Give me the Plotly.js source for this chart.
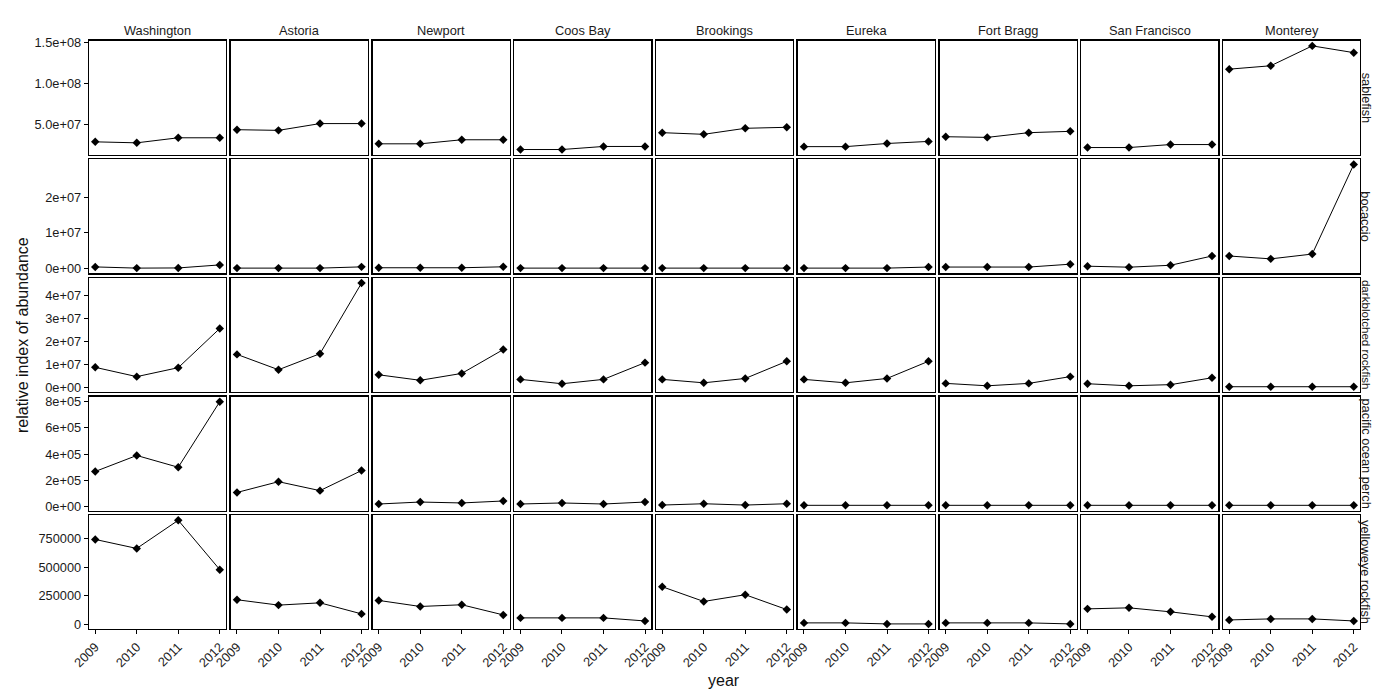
<!DOCTYPE html>
<html>
<head>
<meta charset="utf-8">
<script src="https://cdn.plot.ly/plotly-3.0.1.min.js"></script>
<style>
  body { margin: 0; background: #fff; }
  #chart { width: 1400px; height: 700px; }
</style>
</head>
<body>
<div id="chart"></div>
<script>
// facet grid: species (rows) x port (columns), y free per row
const years = [2009, 2010, 2011, 2012];
const ports = ["Washington", "Astoria", "Newport", "Coos Bay", "Brookings",
               "Eureka", "Fort Bragg", "San Francisco", "Monterey"];
const species = ["sablefish", "bocaccio", "darkblotched rockfish",
                 "pacific ocean perch", "yelloweye rockfish"];

// one array per port, values for 2009..2012
const sablefish = [
  [2.95e7, 2.83e7, 3.44e7, 3.44e7],
  [4.42e7, 4.34e7, 5.16e7, 5.16e7],
  [2.71e7, 2.71e7, 3.2e7, 3.2e7],
  [2.02e7, 2.02e7, 2.39e7, 2.39e7],
  [4.06e7, 3.86e7, 4.59e7, 4.71e7],
  [2.37e7, 2.37e7, 2.75e7, 3.0e7],
  [3.57e7, 3.49e7, 4.06e7, 4.22e7],
  [2.26e7, 2.26e7, 2.62e7, 2.62e7],
  [1.175e8, 1.216e8, 1.457e8, 1.375e8]
];
const bocaccio = [
  [4.4e5, 1e5, 1.5e5, 1.0e6],
  [1e5, 1e5, 1e5, 4.5e5],
  [2e5, 2e5, 2e5, 4.7e5],
  [1e5, 1e5, 1e5, 1e5],
  [1e5, 1e5, 1e5, 1e5],
  [1e5, 1e5, 1e5, 4e5],
  [4e5, 4e5, 4e5, 1.2e6],
  [6.4e5, 3.6e5, 9e5, 3.5e6],
  [3.5e6, 2.7e6, 4.05e6, 2.92e7]
];
const darkblotched = [
  [8.75e6, 4.7e6, 8.6e6, 2.57e7],
  [1.44e7, 7.7e6, 1.47e7, 4.55e7],
  [5.5e6, 3.1e6, 6.1e6, 1.65e7],
  [3.5e6, 1.6e6, 3.5e6, 1.08e7],
  [3.5e6, 2.0e6, 3.9e6, 1.14e7],
  [3.5e6, 2.0e6, 3.9e6, 1.14e7],
  [1.75e6, 7e5, 1.75e6, 4.7e6],
  [1.6e6, 7e5, 1.2e6, 4.2e6],
  [3e5, 3e5, 3e5, 3e5]
];
const oceanPerch = [
  [2.68e5, 3.9e5, 3.0e5, 8.0e5],
  [1.08e5, 1.9e5, 1.22e5, 2.75e5],
  [2.0e4, 3.5e4, 2.8e4, 4.3e4],
  [2.0e4, 2.8e4, 2.0e4, 3.5e4],
  [1.2e4, 2.2e4, 1.2e4, 2.2e4],
  [1e4, 1e4, 1e4, 1e4],
  [1e4, 1e4, 1e4, 1e4],
  [1e4, 1e4, 1e4, 1e4],
  [1e4, 1e4, 1e4, 1e4]
];
const yelloweye = [
  [7.44e5, 6.65e5, 9.12e5, 4.79e5],
  [2.15e5, 1.68e5, 1.88e5, 9.1e4],
  [2.09e5, 1.56e5, 1.71e5, 8.2e4],
  [5.6e4, 5.6e4, 5.6e4, 2.9e4],
  [3.29e5, 2.0e5, 2.59e5, 1.29e5],
  [1.2e4, 1.2e4, 3e3, 3e3],
  [1.2e4, 1.2e4, 1.2e4, 3e3],
  [1.35e5, 1.44e5, 1.09e5, 6.5e4],
  [3.8e4, 4.7e4, 4.7e4, 2.9e4]
];
const rows = [sablefish, bocaccio, darkblotched, oceanPerch, yelloweye];

// y tick values and labels per row
const yTickVals = [
  [5e7, 1e8, 1.5e8],
  [0, 1e7, 2e7],
  [0, 1e7, 2e7, 3e7, 4e7],
  [0, 2e5, 4e5, 6e5, 8e5],
  [0, 250000, 500000, 750000]
];
const yTickText = [
  ["5.0e+07", "1.0e+08", "1.5e+08"],
  ["0e+00", "1e+07", "2e+07"],
  ["0e+00", "1e+07", "2e+07", "3e+07", "4e+07"],
  ["0e+00", "2e+05", "4e+05", "6e+05", "8e+05"],
  ["0", "250000", "500000", "750000"]
];

const W = 1400, H = 700;
const left0 = 89, colStep = 141.75, panelW = 137;
const top0 = 40.7, rowStep = 118.6, panelH = 114;
const tickFont = { family: "Liberation Sans, Arial, sans-serif", size: 12.8, color: "#1a1a1a" };

const traces = [];
const layout = {
  width: W, height: H,
  margin: { l: 0, r: 0, t: 0, b: 0 },
  paper_bgcolor: "white",
  plot_bgcolor: "white",
  showlegend: false,
  font: { family: "Liberation Sans, Arial, sans-serif", color: "#1a1a1a" },
  annotations: []
};

rows.forEach((rowData, r) => {
  // ggplot-like 5% expansion, shared within the row
  const all = rowData.flat();
  const lo = Math.min(...all), hi = Math.max(...all);
  const pad = (hi - lo) * 0.05;
  const yRange = [lo - pad, hi + pad];

  rowData.forEach((vals, c) => {
    const n = r * ports.length + c + 1;
    const sx = n === 1 ? "" : String(n);
    traces.push({
      x: years, y: vals,
      xaxis: "x" + sx, yaxis: "y" + sx,
      type: "scatter", mode: "lines+markers",
      line: { color: "black", width: 1 },
      marker: { color: "black", symbol: "diamond", size: 6.5 },
      hoverinfo: "x+y"
    });

    const x0 = left0 + c * colStep;
    const y0 = top0 + r * rowStep;
    const bottomRow = r === rows.length - 1;
    const firstCol = c === 0;

    layout["xaxis" + sx] = {
      domain: [x0 / W, (x0 + panelW) / W],
      anchor: "y" + sx,
      range: [2008.85, 2012.15],
      showline: true, mirror: true, linecolor: "black", linewidth: 1.3,
      showgrid: false, zeroline: false,
      tickvals: years,
      ticks: bottomRow ? "outside" : "",
      ticklen: 4, tickcolor: "black",
      showticklabels: bottomRow,
      tickangle: -45,
      tickfont: tickFont
    };
    layout["yaxis" + sx] = {
      domain: [(H - y0 - panelH) / H, (H - y0) / H],
      anchor: "x" + sx,
      range: yRange,
      showline: true, mirror: true, linecolor: "black", linewidth: 1.3,
      showgrid: false, zeroline: false,
      tickvals: yTickVals[r], ticktext: yTickText[r],
      ticks: firstCol ? "outside" : "",
      ticklen: 4, tickcolor: "black",
      showticklabels: firstCol,
      tickfont: tickFont
    };
  });
});

// column strips
ports.forEach((p, c) => {
  layout.annotations.push({
    text: p, xref: "paper", yref: "paper",
    x: (left0 + c * colStep + panelW / 2) / W, y: 1 - 31 / H,
    xanchor: "center", yanchor: "middle", showarrow: false,
    font: { size: 12.8, color: "#1a1a1a" }
  });
});
// row strips (long label shrunk a little so it stays beside its own row)
species.forEach((s, r) => {
  layout.annotations.push({
    text: s, xref: "paper", yref: "paper",
    x: 1366 / W, y: 1 - (top0 + r * rowStep + panelH / 2) / H,
    xanchor: "center", yanchor: "middle", showarrow: false,
    textangle: 90,
    font: { size: s.length > 19 ? 11.6 : 12.8, color: "#1a1a1a" }
  });
});
// axis titles
layout.annotations.push({
  text: "year", xref: "paper", yref: "paper",
  x: 724 / W, y: 1 - 680 / H, xanchor: "center", yanchor: "middle",
  showarrow: false, font: { size: 16, color: "#111" }
});
layout.annotations.push({
  text: "relative index of abundance", xref: "paper", yref: "paper",
  x: 22 / W, y: 1 - 335 / H, xanchor: "center", yanchor: "middle",
  showarrow: false, textangle: -90, font: { size: 16, color: "#111" }
});

Plotly.newPlot("chart", traces, layout, { displayModeBar: false, staticPlot: true });
</script>
</body>
</html>
